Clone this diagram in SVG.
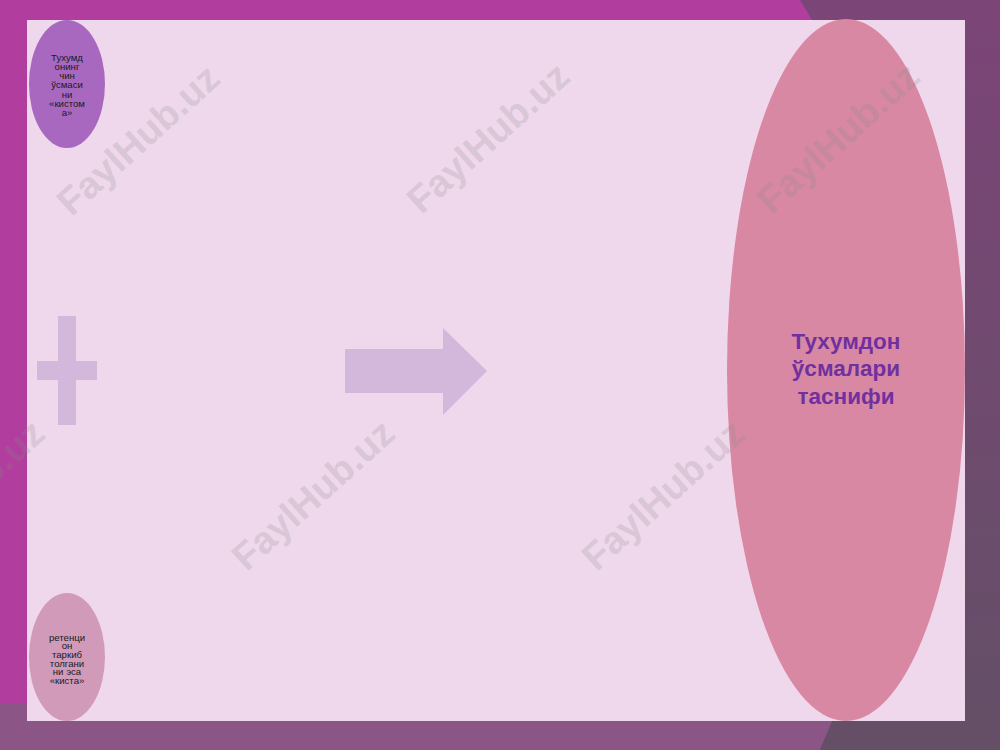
<svg xmlns="http://www.w3.org/2000/svg" width="1000" height="750" viewBox="0 0 1000 750">
<defs>
<linearGradient id="rg" x1="0" y1="0" x2="0" y2="1">
<stop offset="0" stop-color="#7C4578"/>
<stop offset="1" stop-color="#634F66"/>
</linearGradient>
<style>
.sm{font-family:"Liberation Sans",Arial,sans-serif;font-size:9.6px;fill:#1a1a1a;text-anchor:middle;dominant-baseline:middle}
.big{font-family:"Liberation Sans",Arial,sans-serif;font-size:22.5px;font-weight:bold;fill:#7030A0;text-anchor:middle;dominant-baseline:middle}
.wm{font-family:"Liberation Sans",Arial,sans-serif;font-size:38px;font-weight:bold;fill:#8a8a8a;opacity:0.22;text-anchor:middle;dominant-baseline:middle}
.shape{fill:#D3B8DC}
</style>
</defs>
<rect width="1000" height="750" fill="#B13E9E"/>
<polygon points="800,0 1000,0 1000,750 812,750 812,20" fill="url(#rg)"/>
<polygon points="0,703 840,703 820,750 0,750" fill="#8B5585"/>
<polygon points="840,703 1000,703 1000,750 820,750" fill="#654F67"/>
<rect x="27" y="20" width="938" height="701" fill="#F0D8EC"/>
<g id="node-main">
<ellipse cx="846" cy="370" rx="119" ry="351" fill="#D888A2"/>
<text class="big" x="846" y="343">Тухумдон</text>
<text class="big" x="846" y="370">ўсмалари</text>
<text class="big" x="846" y="398">таснифи</text>
</g>
<g id="node-top">
<ellipse cx="67" cy="84" rx="38" ry="64" fill="#A868C0"/>
<text class="sm" x="67" y="58">Тухумд</text>
<text class="sm" x="67" y="67.3">онинг</text>
<text class="sm" x="67" y="76.6">чин</text>
<text class="sm" x="67" y="85.9">ўсмаси</text>
<text class="sm" x="67" y="95.2">ни</text>
<text class="sm" x="67" y="104.5">«кистом</text>
<text class="sm" x="67" y="113.5">а»</text>
</g>
<g id="node-bottom">
<ellipse cx="67" cy="657" rx="38" ry="64" fill="#D09AB8"/>
<text class="sm" x="67" y="638">ретенци</text>
<text class="sm" x="67" y="646.7">он</text>
<text class="sm" x="67" y="655.4">таркиб</text>
<text class="sm" x="67" y="664.1">толгани</text>
<text class="sm" x="67" y="672.8">ни эса</text>
<text class="sm" x="67" y="681.5">«киста»</text>
</g>
<g id="connectors">
<rect class="shape" x="58" y="316" width="18" height="109"/>
<rect class="shape" x="37" y="361" width="60" height="19"/>
<polygon class="shape" points="345,349 443,349 443,328 487,371 443,415 443,393 345,393"/>
</g>
<g id="watermarks">
<text class="wm" transform="translate(140,142) rotate(-42)">FaylHub.uz</text>
<text class="wm" transform="translate(490,140) rotate(-42)">FaylHub.uz</text>
<text class="wm" transform="translate(840,140) rotate(-42)">FaylHub.uz</text>
<text class="wm" transform="translate(315,497) rotate(-42)">FaylHub.uz</text>
<text class="wm" transform="translate(665,497) rotate(-42)">FaylHub.uz</text>
<text class="wm" transform="translate(-35,497) rotate(-42)">FaylHub.uz</text>
</g>
</svg>
